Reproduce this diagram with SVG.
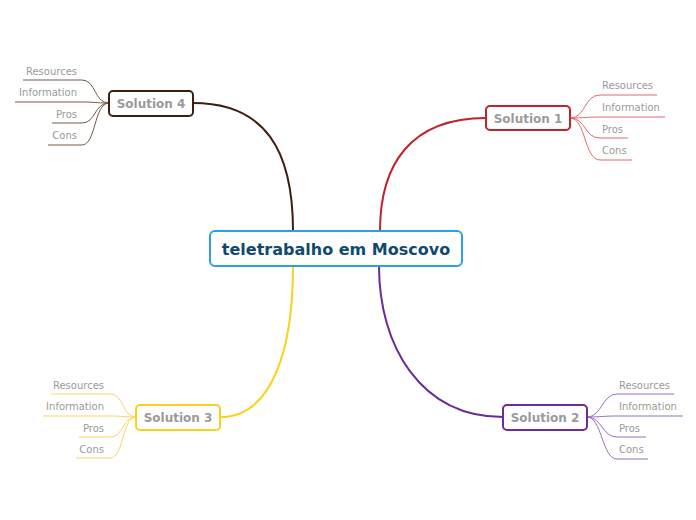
<svg xmlns="http://www.w3.org/2000/svg" width="696" height="520" viewBox="0 0 696 520">
<style>
.box{fill:#fff;stroke-width:2}
.t{font-family:"DejaVu Sans",Verdana,sans-serif;font-weight:bold;font-size:12px;fill:#9a9a9a;text-anchor:middle}
.lf{font-family:"DejaVu Sans",Verdana,sans-serif;font-size:10px;fill:#9a9a9a}
.main{fill:none;stroke-width:2}
.leaf{fill:none;stroke-width:1}
</style>
<rect width="696" height="520" fill="#fff"/>
<g id="connectors">
  <path class="main" stroke="#3d1f12" d="M193,103 C265,103 293,150 293,231"/>
  <path class="main" stroke="#c0232b" d="M486,118 C410,118 380,165 380,231"/>
  <path class="main" stroke="#f7d320" d="M220,417 C272,417 293,350 293,266"/>
  <path class="main" stroke="#6b2c93" d="M503,417 C420,417 379,345 379,266"/>
  <g stroke="#e06a6f" class="leaf">
    <path class="leaf" d="M570,118 C586,118 584,95 600,95 H657"/>
    <path class="leaf" d="M570,118 C586,118 586,117 600,117 H665"/>
    <path class="leaf" d="M570,118 C586,118 584,138 600,138 H628"/>
    <path class="leaf" d="M570,118 C586,118 584,160 600,160 H632"/>
  </g>
  <g stroke="#7a5848" class="leaf">
    <path class="leaf" d="M109,103 C94,103 96,80 82,80 H23"/>
    <path class="leaf" d="M109,103 C94,103 96,102 82,102 H15"/>
    <path class="leaf" d="M109,103 C94,103 96,123 82,123 H52"/>
    <path class="leaf" d="M109,103 C94,103 96,145 82,145 H48"/>
  </g>
  <g stroke="#f6d760" class="leaf">
    <path class="leaf" d="M136,417 C122,417 124,394 110,394 H51"/>
    <path class="leaf" d="M136,417 C122,417 124,416 110,416 H43"/>
    <path class="leaf" d="M136,417 C122,417 124,437 110,437 H79"/>
    <path class="leaf" d="M136,417 C122,417 124,458 110,458 H76"/>
  </g>
  <g stroke="#9b6fbb" class="leaf">
    <path class="leaf" d="M587,417 C602,417 602,394 617,394 H674"/>
    <path class="leaf" d="M587,417 C602,417 602,416 617,416 H683"/>
    <path class="leaf" d="M587,417 C602,417 602,437 617,437 H646"/>
    <path class="leaf" d="M587,417 C602,417 602,459 617,459 H648"/>
  </g>
</g>
<g id="central">
  <rect class="box" x="210" y="231" width="252" height="35" rx="5" stroke="#2a9fe4"/>
  <text x="336" y="254.5" font-family="'DejaVu Sans',Verdana,sans-serif" font-weight="bold" font-size="16" fill="#0f4a6e" text-anchor="middle">teletrabalho em Moscovo</text>
</g>
<g id="solution1">
  <rect class="box" x="486" y="106" width="84" height="24" rx="4" stroke="#c0232b"/>
  <text class="t" x="528" y="122.5">Solution 1</text>
  <text class="lf" x="602" y="89">Resources</text>
  <text class="lf" x="602" y="111">Information</text>
  <text class="lf" x="602" y="133">Pros</text>
  <text class="lf" x="602" y="154">Cons</text>
</g>
<g id="solution2">
  <rect class="box" x="503" y="405" width="84" height="25" rx="4" stroke="#6b2c93"/>
  <text class="t" x="545" y="422">Solution 2</text>
  <text class="lf" x="619" y="389">Resources</text>
  <text class="lf" x="619" y="410">Information</text>
  <text class="lf" x="619" y="432">Pros</text>
  <text class="lf" x="619" y="453">Cons</text>
</g>
<g id="solution3">
  <rect class="box" x="136" y="405" width="84" height="25" rx="4" stroke="#f7d320"/>
  <text class="t" x="178" y="422">Solution 3</text>
  <text class="lf" x="104" y="389" text-anchor="end">Resources</text>
  <text class="lf" x="104" y="410" text-anchor="end">Information</text>
  <text class="lf" x="104" y="432" text-anchor="end">Pros</text>
  <text class="lf" x="104" y="453" text-anchor="end">Cons</text>
</g>
<g id="solution4">
  <rect class="box" x="109" y="91" width="84" height="25" rx="4" stroke="#3d1f12"/>
  <text class="t" x="151" y="108">Solution 4</text>
  <text class="lf" x="77" y="75" text-anchor="end">Resources</text>
  <text class="lf" x="77" y="96" text-anchor="end">Information</text>
  <text class="lf" x="77" y="118" text-anchor="end">Pros</text>
  <text class="lf" x="77" y="139" text-anchor="end">Cons</text>
</g>
</svg>
